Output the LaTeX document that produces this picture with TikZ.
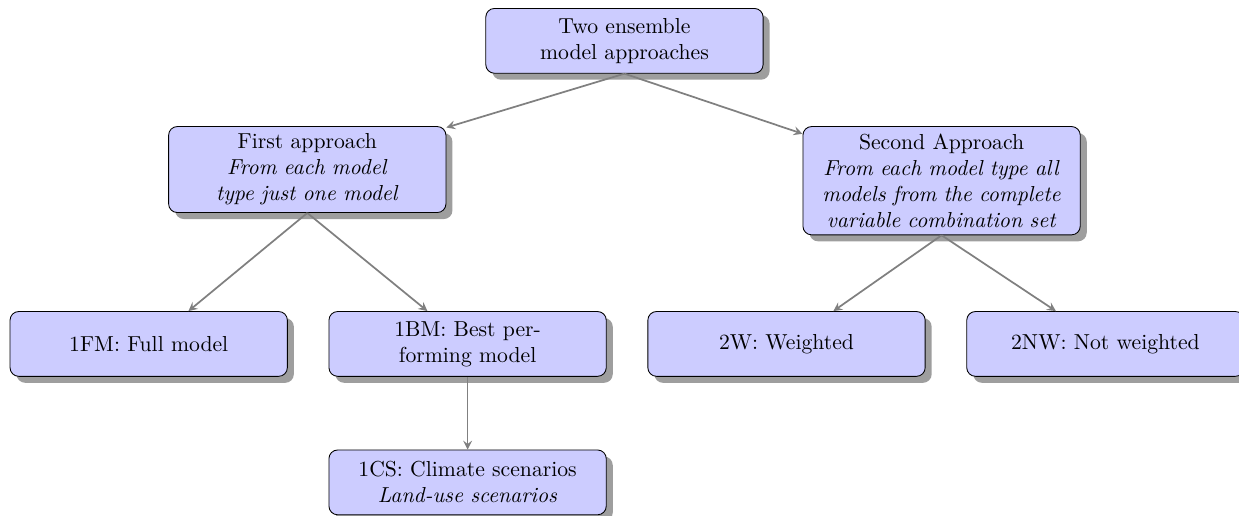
\documentclass[tikz,border=0pt]{standalone}
\usetikzlibrary{positioning, shadows}

\begin{document}
\begin{tikzpicture}[
            node distance=0.66cm,
            box/.style={draw, rectangle, rounded corners, fill=blue!20,
                drop shadow={shadow xshift=3pt, shadow yshift=-3pt, fill=black!38, opacity=1},
                text width=4.26cm, align=center, minimum height=1.05cm},
            arrow/.style={->, >=stealth, thick, gray}
            ]
            \useasboundingbox (0,0) rectangle (20.08,-8.35);

            % topo
            \node[box, anchor=north] (ensemble) at (10.12,-0.13) {Two ensemble\\model approaches};

            % abordagens
            \node[box, below=0.85cm of ensemble, xshift=-5.14cm] (first) {First approach\\\textit{From each model}\\\textit{type just one model}};
            \node[box, below=0.85cm of ensemble, xshift=5.14cm] (second) {Second Approach\\\textit{From each model type all}\\\textit{models from the complete}\\\textit{variable combination set}};

            % folhas
            \node[box, below=1.59cm of first, xshift=-2.57cm] (fullmodel) {1FM: Full model};
            \node[box, right=of fullmodel] (bestmodel) {1BM: Best per-\\forming model};
            \node[box, right=of bestmodel] (weighted) {2W: Weighted};
            \node[box, right=of weighted] (notweighted) {2NW: Not weighted};
            \node[box, below=1.18cm of bestmodel] (scenarios) {1CS: Climate scenarios\\\textit{Land-use scenarios}};

            % setas
            \draw[arrow] (ensemble.south) -- (first);
            \draw[arrow] (ensemble.south) -- (second);
            \draw[arrow] (first.south) -- (fullmodel);
            \draw[arrow] (first.south) -- (bestmodel);
            \draw[arrow] (second.south) -- (weighted);
            \draw[arrow] (second.south) -- (notweighted);
            \draw[arrow] (bestmodel.south) -- (scenarios);

        \end{tikzpicture}
\end{document}
